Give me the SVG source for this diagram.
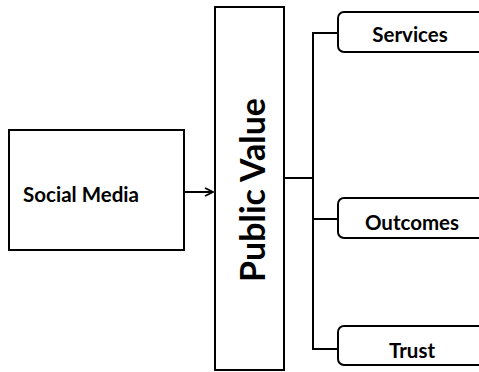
<svg xmlns="http://www.w3.org/2000/svg" width="479" height="372" viewBox="0 0 479 372">
<defs>
<style>
.box{fill:#fff;stroke:#000;stroke-width:2}
.line{fill:none;stroke:#000;stroke-width:2}
.t{font-family:Lato,"Open Sans",sans-serif;font-weight:bold;fill:#000;text-anchor:middle;dominant-baseline:central}
</style>
<marker id="ah" viewBox="0 0 10 10" refX="9" refY="5" markerWidth="10" markerHeight="10" markerUnits="userSpaceOnUse" orient="auto">
<path d="M1,1 L9,5 L1,9" fill="none" stroke="#000" stroke-width="1.8"/>
</marker>
</defs>
<g id="connectors">
<line class="line" x1="184" y1="192" x2="213" y2="192" marker-end="url(#ah)"/>
<line class="line" x1="284" y1="178" x2="313" y2="178"/>
<polyline class="line" points="338,33 313,33 313,349 338,349"/>
<line class="line" x1="313" y1="219" x2="338" y2="219"/>
</g>
<g id="social-media">
<rect class="box" x="9" y="130" width="175" height="120"/>
<text class="t" x="81" y="194" font-size="20.5">Social Media</text>
</g>
<g id="public-value">
<rect class="box" x="215" y="7" width="69" height="363"/>
<text class="t" x="251" y="190" font-size="34" transform="rotate(-90 251 190)">Public Value</text>
</g>
<g id="services">
<rect class="box" x="338" y="12" width="160" height="40" rx="6"/>
<text class="t" x="410" y="34" font-size="20.5">Services</text>
</g>
<g id="outcomes">
<rect class="box" x="338" y="198" width="160" height="40" rx="6"/>
<text class="t" x="412" y="222" font-size="20.5">Outcomes</text>
</g>
<g id="trust">
<rect class="box" x="338" y="326" width="160" height="39" rx="6"/>
<text class="t" x="412" y="350" font-size="20.5">Trust</text>
</g>
</svg>
